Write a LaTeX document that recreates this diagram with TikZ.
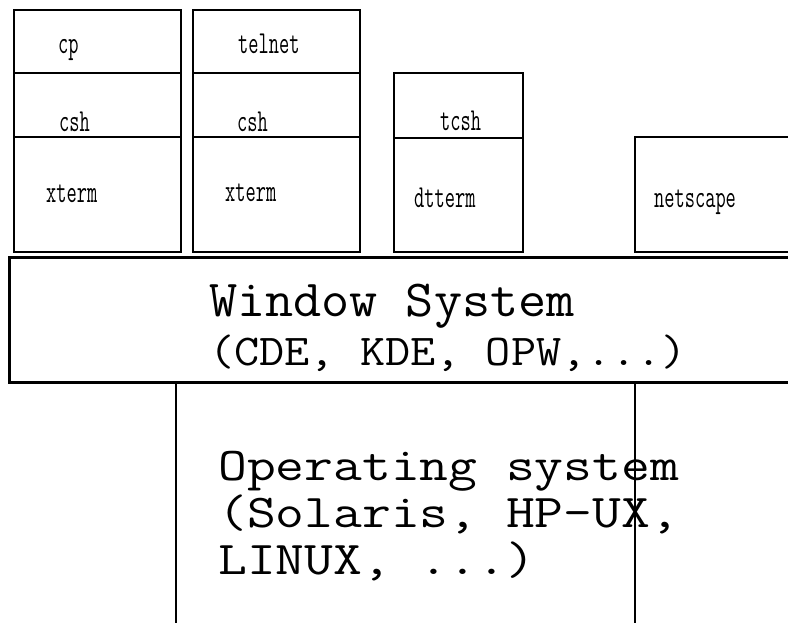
\documentclass[tikz,border=0pt]{standalone}
\usepackage{fontspec}
\newfontfamily\narrowmono[FakeStretch=0.62]{Latin Modern Mono}
\newfontfamily\winmono[FakeStretch=1.05]{Latin Modern Mono}
\newfontfamily\winmonob[FakeStretch=1.11]{Latin Modern Mono}
\newfontfamily\osmono[FakeStretch=1.19]{Latin Modern Mono}
\begin{document}
\begin{tikzpicture}[x=1pt,y=-1pt,
  box/.style={draw, line width=2.8pt, inner sep=0pt, outer sep=0pt, anchor=north west},
  layer/.style={draw, line width=3pt, inner sep=0pt, outer sep=0pt, anchor=north west},
  lbl/.style={inner sep=0pt, anchor=base west, font=\narrowmono\fontsize{32}{32}\selectfont},
  winA/.style={inner sep=0pt, anchor=base west, font=\winmono\fontsize{52}{52}\selectfont},
  winB/.style={inner sep=0pt, anchor=base west, font=\winmonob\fontsize{44}{44}\selectfont},
  ostxt/.style={inner sep=0pt, anchor=base west, font=\osmono\fontsize{47}{47}\selectfont}]
\useasboundingbox (0,0) rectangle (788,622);
\clip (0,0) rectangle (788,622);
\fill[white] (0,0) rectangle (788,622);

% first terminal stack
\node[box, minimum width=167pt, minimum height=63pt]  (cp)    at (14,10)  {};
\node[box, minimum width=167pt, minimum height=64pt]  (csha)  at (14,73)  {};
\node[box, minimum width=167pt, minimum height=115pt] (xta)   at (14,137) {};
% second terminal stack
\node[box, minimum width=167pt, minimum height=63pt]  (tel)   at (193,10)  {};
\node[box, minimum width=167pt, minimum height=64pt]  (cshb)  at (193,73)  {};
\node[box, minimum width=167pt, minimum height=115pt] (xtb)   at (193,137) {};
% third terminal stack
\node[box, minimum width=129pt, minimum height=65pt]  (tcsh)  at (394,73)  {};
\node[box, minimum width=129pt, minimum height=114pt] (dtt)   at (394,138) {};
% browser
\node[box, minimum width=180pt, minimum height=115pt] (net)   at (635,137) {};

% labels
\node[lbl] (tcp)   at (58,53)   {cp};
\node[lbl] (tcsha) at (59,131)  {csh};
\node[lbl] (txta)  at (46,202)  {xterm};
\node[lbl] (ttel)  at (238,53)  {telnet};
\node[lbl] (tcshb) at (237,131) {csh};
\node[lbl] (txtb)  at (225,201) {xterm};
\node[lbl] (ttcsh) at (440,130) {tcsh};
\node[lbl] (tdtt)  at (414,207) {dtterm};
\node[lbl] (tnet)  at (654,207) {netscape};

% window system layer
\node[layer, minimum width=800pt, minimum height=125pt] (win) at (9,257) {};
\node[winA] (wint1) at (209,316.7) {Window System};
\node[winB] (wint2) at (209,365) {(CDE, KDE, OPW,...)};

% operating system layer
\node[ostxt] (ost1) at (218,480) {Operating system};
\node[ostxt] (ost2) at (218,527) {(Solaris, HP-UX,};
\node[ostxt] (ost3) at (218,574) {LINUX, ...)};
\node[draw, line width=2.2pt, inner sep=0pt, outer sep=0pt, anchor=north west,
      minimum width=459pt, minimum height=260pt] (os) at (176,383) {};
\end{tikzpicture}
\end{document}
